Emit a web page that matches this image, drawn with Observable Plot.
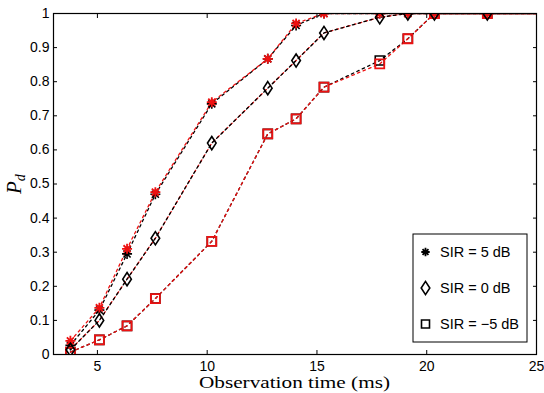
<!DOCTYPE html>
<html><head><meta charset="utf-8">
<script src="https://cdn.jsdelivr.net/npm/d3@7"></script>
<script src="https://cdn.jsdelivr.net/npm/@observablehq/plot@0.6"></script>
<style>
body{margin:0;background:#fff}
#chart{width:544px;height:393px}
</style>
</head><body><div id="chart"></div>
<script>
// Observation time (ms)
const time = [3.77, 5.09, 6.35, 7.64, 10.21, 12.76, 14.05, 15.32, 17.86, 19.14, 20.35, 22.76, 25.3];
// Pd, black series
const sir5Black  = [0.027, 0.130, 0.295, 0.470, 0.735, 0.867, 0.965, 1, 1, 1, 1, 1, 1];
const sir0Black  = [0.014, 0.100, 0.221, 0.341, 0.620, 0.781, 0.862, 0.943, 0.989, 1, 1, 1, 1];
const sirM5Black = [0.007, 0.043, 0.084, 0.164, 0.332, 0.647, 0.691, 0.784, 0.862, 0.926, 1, 1, 1];
// Pd, red series
const sir5Red  = [0.040, 0.137, 0.310, 0.476, 0.740, 0.867, 0.971, 1, 1, 1, 1, 1, 1];
const sir0Red  = [0.014, 0.100, 0.221, 0.341, 0.620, 0.781, 0.862, 0.943, 0.989, 1, 1, 1, 1];
const sirM5Red = [0.007, 0.043, 0.084, 0.164, 0.332, 0.647, 0.691, 0.784, 0.852, 0.926, 1, 1, 1];
// ticks and labels
const xTicks = [5, 10, 15, 20, 25];
const yTicks = [0, 0.1, 0.2, 0.3, 0.4, 0.5, 0.6, 0.7, 0.8, 0.9, 1];
const legendLabels = ["SIR = 5 dB", "SIR = 0 dB", "SIR = \u22125 dB"];
const xLabel = "Observation time (ms)";

// custom MATLAB-like symbols
const asterisk = {draw(c, size) {
  const r = Math.sqrt(size / Math.PI), d = r * 0.7071;
  c.moveTo(-r, 0); c.lineTo(r, 0); c.moveTo(0, -r); c.lineTo(0, r);
  c.moveTo(-d, -d); c.lineTo(d, d); c.moveTo(-d, d); c.lineTo(d, -d);
}};
const diamond = {draw(c, size) {
  const r = Math.sqrt(size / Math.PI), w = r * 0.72, h = r * 1.1;
  c.moveTo(0, -h); c.lineTo(w, 0); c.lineTo(0, h); c.lineTo(-w, 0); c.closePath();
}};
const square = {draw(c, size) {
  const r = Math.sqrt(size / Math.PI);
  c.rect(-r, -r, 2 * r, 2 * r);
}};

const mk = (vals) => time.map((t, i) => ({t, p: vals[i]}));
const dash = "2.5,3.5";
const RED = "#ee1111";
const common = {x: "t", y: "p", clip: true};
const lw = 1.3;

const marks = [
  // SIR = 0: red under, black on top (shifted phase)
  Plot.line(mk(sir0Red), {...common, stroke: RED, strokeWidth: lw, strokeDasharray: dash, strokeDashoffset: -1.2}),
  Plot.line(mk(sir0Black), {...common, stroke: "black", strokeWidth: lw, strokeDasharray: dash}),
  // SIR = 5 and -5: black under, red on top
  Plot.line(mk(sir5Black), {...common, stroke: "black", strokeWidth: lw, strokeDasharray: dash}),
  Plot.line(mk(sirM5Black), {...common, stroke: "black", strokeWidth: lw, strokeDasharray: dash}),
  Plot.line(mk(sir5Red), {...common, stroke: RED, strokeWidth: lw, strokeDasharray: dash}),
  Plot.line(mk(sirM5Red), {...common, stroke: RED, strokeWidth: lw, strokeDasharray: dash}),
  // markers
  Plot.dot(mk(sir5Black), {...common, symbol: asterisk, r: 5, stroke: "black", strokeWidth: 1.6, fill: "none"}),
  Plot.dot(mk(sirM5Black), {...common, symbol: square, r: 4.5, stroke: "black", strokeWidth: 1.6, fill: "none"}),
  Plot.dot(mk(sir5Red), {...common, symbol: asterisk, r: 5, stroke: RED, strokeWidth: 1.8, fill: "none"}),
  Plot.dot(mk(sirM5Red), {...common, symbol: square, r: 4.5, stroke: RED, strokeWidth: 1.8, fill: "none"}),
  Plot.dot(mk(sir0Black), {...common, symbol: diamond, r: 6, stroke: "black", strokeWidth: 1.6, fill: "none"})
];

function decorations(index, scales, values, dims) {
  const g = d3.create("svg:g");
  // legend
  const bw = 114, bh = 108;
  const x0 = dims.width - dims.marginRight - 9 - bw;
  const y0 = dims.height - dims.marginBottom - 12 - bh;
  g.append("rect").attr("x", x0).attr("y", y0).attr("width", bw).attr("height", bh)
    .attr("fill", "white").attr("stroke", "black").attr("stroke-width", 1);
  const syms = [[asterisk, 4.2, 1.8], [diamond, 6, 1.6], [square, 4, 1.6]];
  legendLabels.forEach((lab, i) => {
    const cy = y0 + 18 + i * 36;
    const [sym, r, sw] = syms[i];
    g.append("path").attr("transform", `translate(${x0 + 12.5},${cy})`)
      .attr("d", d3.symbol(sym, r * r * Math.PI)())
      .attr("fill", "none").attr("stroke", "black").attr("stroke-width", sw);
    g.append("text").attr("x", x0 + 27).attr("y", cy).attr("dy", "0.36em")
      .attr("text-anchor", "start")
      .attr("font-family", "Liberation Sans").attr("font-size", 14.5).attr("fill", "black").text(lab);
  });
  // x label
  const cx = (dims.marginLeft + dims.width - dims.marginRight) / 2;
  g.append("text").attr("x", cx).attr("y", dims.height - 5).attr("text-anchor", "middle")
    .attr("font-family", "Liberation Serif").attr("font-size", 17).attr("fill", "black")
    .attr("textLength", 191).attr("lengthAdjust", "spacingAndGlyphs").text(xLabel);
  // y label P_d
  const t = g.append("text").attr("transform", `translate(21,194) rotate(-90)`)
    .attr("text-anchor", "start")
    .attr("font-family", "Liberation Serif").attr("font-style", "italic").attr("font-size", 21).attr("fill", "black");
  t.append("tspan").text("P");
  t.append("tspan").attr("font-size", 14).attr("dy", 4).text("d");
  return g.node();
}

const chart = Plot.plot({
  width: 544, height: 393,
  marginLeft: 53, marginRight: 8, marginTop: 13, marginBottom: 39,
  style: {fontFamily: "Liberation Sans", fontSize: "14px", background: "white", color: "black"},
  x: {domain: [3, 25], label: null},
  y: {domain: [0, 1], label: null},
  marks: [
    ...marks,
    Plot.axisX({ticks: xTicks, anchor: "bottom", tickSize: -4, tickPadding: 11, label: null, tickFormat: d => String(d)}),
    Plot.axisX({ticks: xTicks, anchor: "top", tickSize: -4, label: null, tickFormat: () => ""}),
    Plot.axisY({ticks: yTicks, anchor: "left", tickSize: -4, tickPadding: 8, label: null, tickFormat: d => String(d)}),
    Plot.axisY({ticks: yTicks, anchor: "right", tickSize: -4, label: null, tickFormat: () => ""}),
    Plot.frame({stroke: "black", strokeWidth: 1.2}),
    decorations
  ]
});
document.getElementById("chart").append(chart);
</script>
</body></html>
